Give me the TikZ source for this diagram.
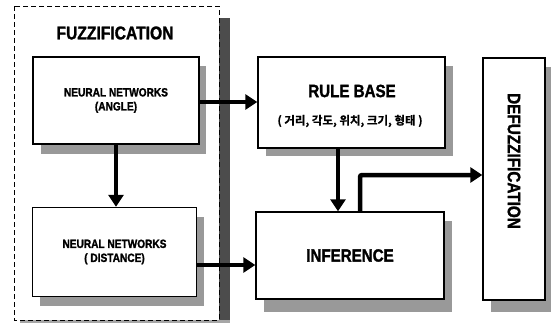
\documentclass[tikz,border=0pt]{standalone}
\usepackage{fontspec}
\setmainfont{Liberation Sans}[FakeStretch=0.85,BoldFeatures={FakeBold=1.5}]
\newfontfamily\kr{Noto Sans CJK KR Bold}[FakeBold=0.8]
\usetikzlibrary{arrows.meta,calc}
\begin{document}
\begin{tikzpicture}[x=1pt,y=-1pt,
  box/.style={draw,line width=1.4pt,fill=white,inner sep=0pt,align=center,font=\bfseries},
  shade/.style={fill=black!40,draw=none},
  conn/.style={line width=4.5pt,-{Triangle[length=12pt,width=15pt]}},
]
\useasboundingbox (0,0) rectangle (551,327);
% dashed fuzzification region
\fill[black!70] (219,18) rectangle (230,323);
\fill[black!35] (20,320) rectangle (230,323);
\draw[dashed,line width=1pt,dash pattern=on 5pt off 3pt,fill=white] (14,6) rectangle (219,320);
\node[font=\bfseries\fontsize{18.4}{20}\selectfont] (fz) at (115,33) {FUZZIFICATION};
% shadows
\fill[shade] (41,66) rectangle (206,154);
\fill[shade] (40,217) rectangle (204,306);
\fill[shade] (266,66) rectangle (453,156);
\fill[shade] (264,221) rectangle (452,312);
\fill[shade] (491,67) rectangle (552,312);
% boxes
\node[box,minimum width=166pt,minimum height=87pt,font=\bfseries\fontsize{11.9}{14}\selectfont] (ang) at (116,100.5) {NEURAL NETWORKS\\(ANGLE)};
\node[box,minimum width=164pt,minimum height=89pt,font=\bfseries\fontsize{11.9}{14}\selectfont] (dist) at (114.5,252) {NEURAL NETWORKS\\( DISTANCE)};
\node[box,minimum width=187pt,minimum height=91pt] (rule) at (351.5,102.5) {};
\node[font=\bfseries\fontsize{17.8}{20}\selectfont] (rt) at (352,91) {RULE BASE};
\node[font=\kr\fontsize{11.5}{13}\selectfont] (rk) at (350,121) {( 거리, 각도, 위치, 크기, 형태 )};
\node[box,minimum width=188pt,minimum height=87pt,font=\bfseries\fontsize{17.8}{20}\selectfont] (inf) at (350,255.5) {INFERENCE};
\node[box,minimum width=62pt,minimum height=242pt] (defz) at (514,179) {};
\node[rotate=-90,font=\bfseries\fontsize{18}{20}\selectfont] (dt) at (514,161) {DEFUZZIFICATION};
% connector end points
\coordinate (a1) at ($(ang.east)+(0,1.5)$);
\coordinate (d1) at ($(dist.east)+(0,13)$);
\coordinate (r1) at ($(rule.south)+(-13.5,0)$);
\coordinate (i1) at ($(inf.north)+(10,0)$);
\coordinate (f1) at ($(defz.west)+(0,-4)$);
% connectors
\draw[conn] (ang.south) -- (ang.south |- dist.north);
\draw[conn] (a1) -- (a1 -| rule.west);
\draw[conn] (d1) -- (d1 -| inf.west);
\draw[conn] (r1) -- (r1 |- inf.north);
\draw[conn,rounded corners=2pt] (i1) |- (f1);
\end{tikzpicture}
\end{document}
